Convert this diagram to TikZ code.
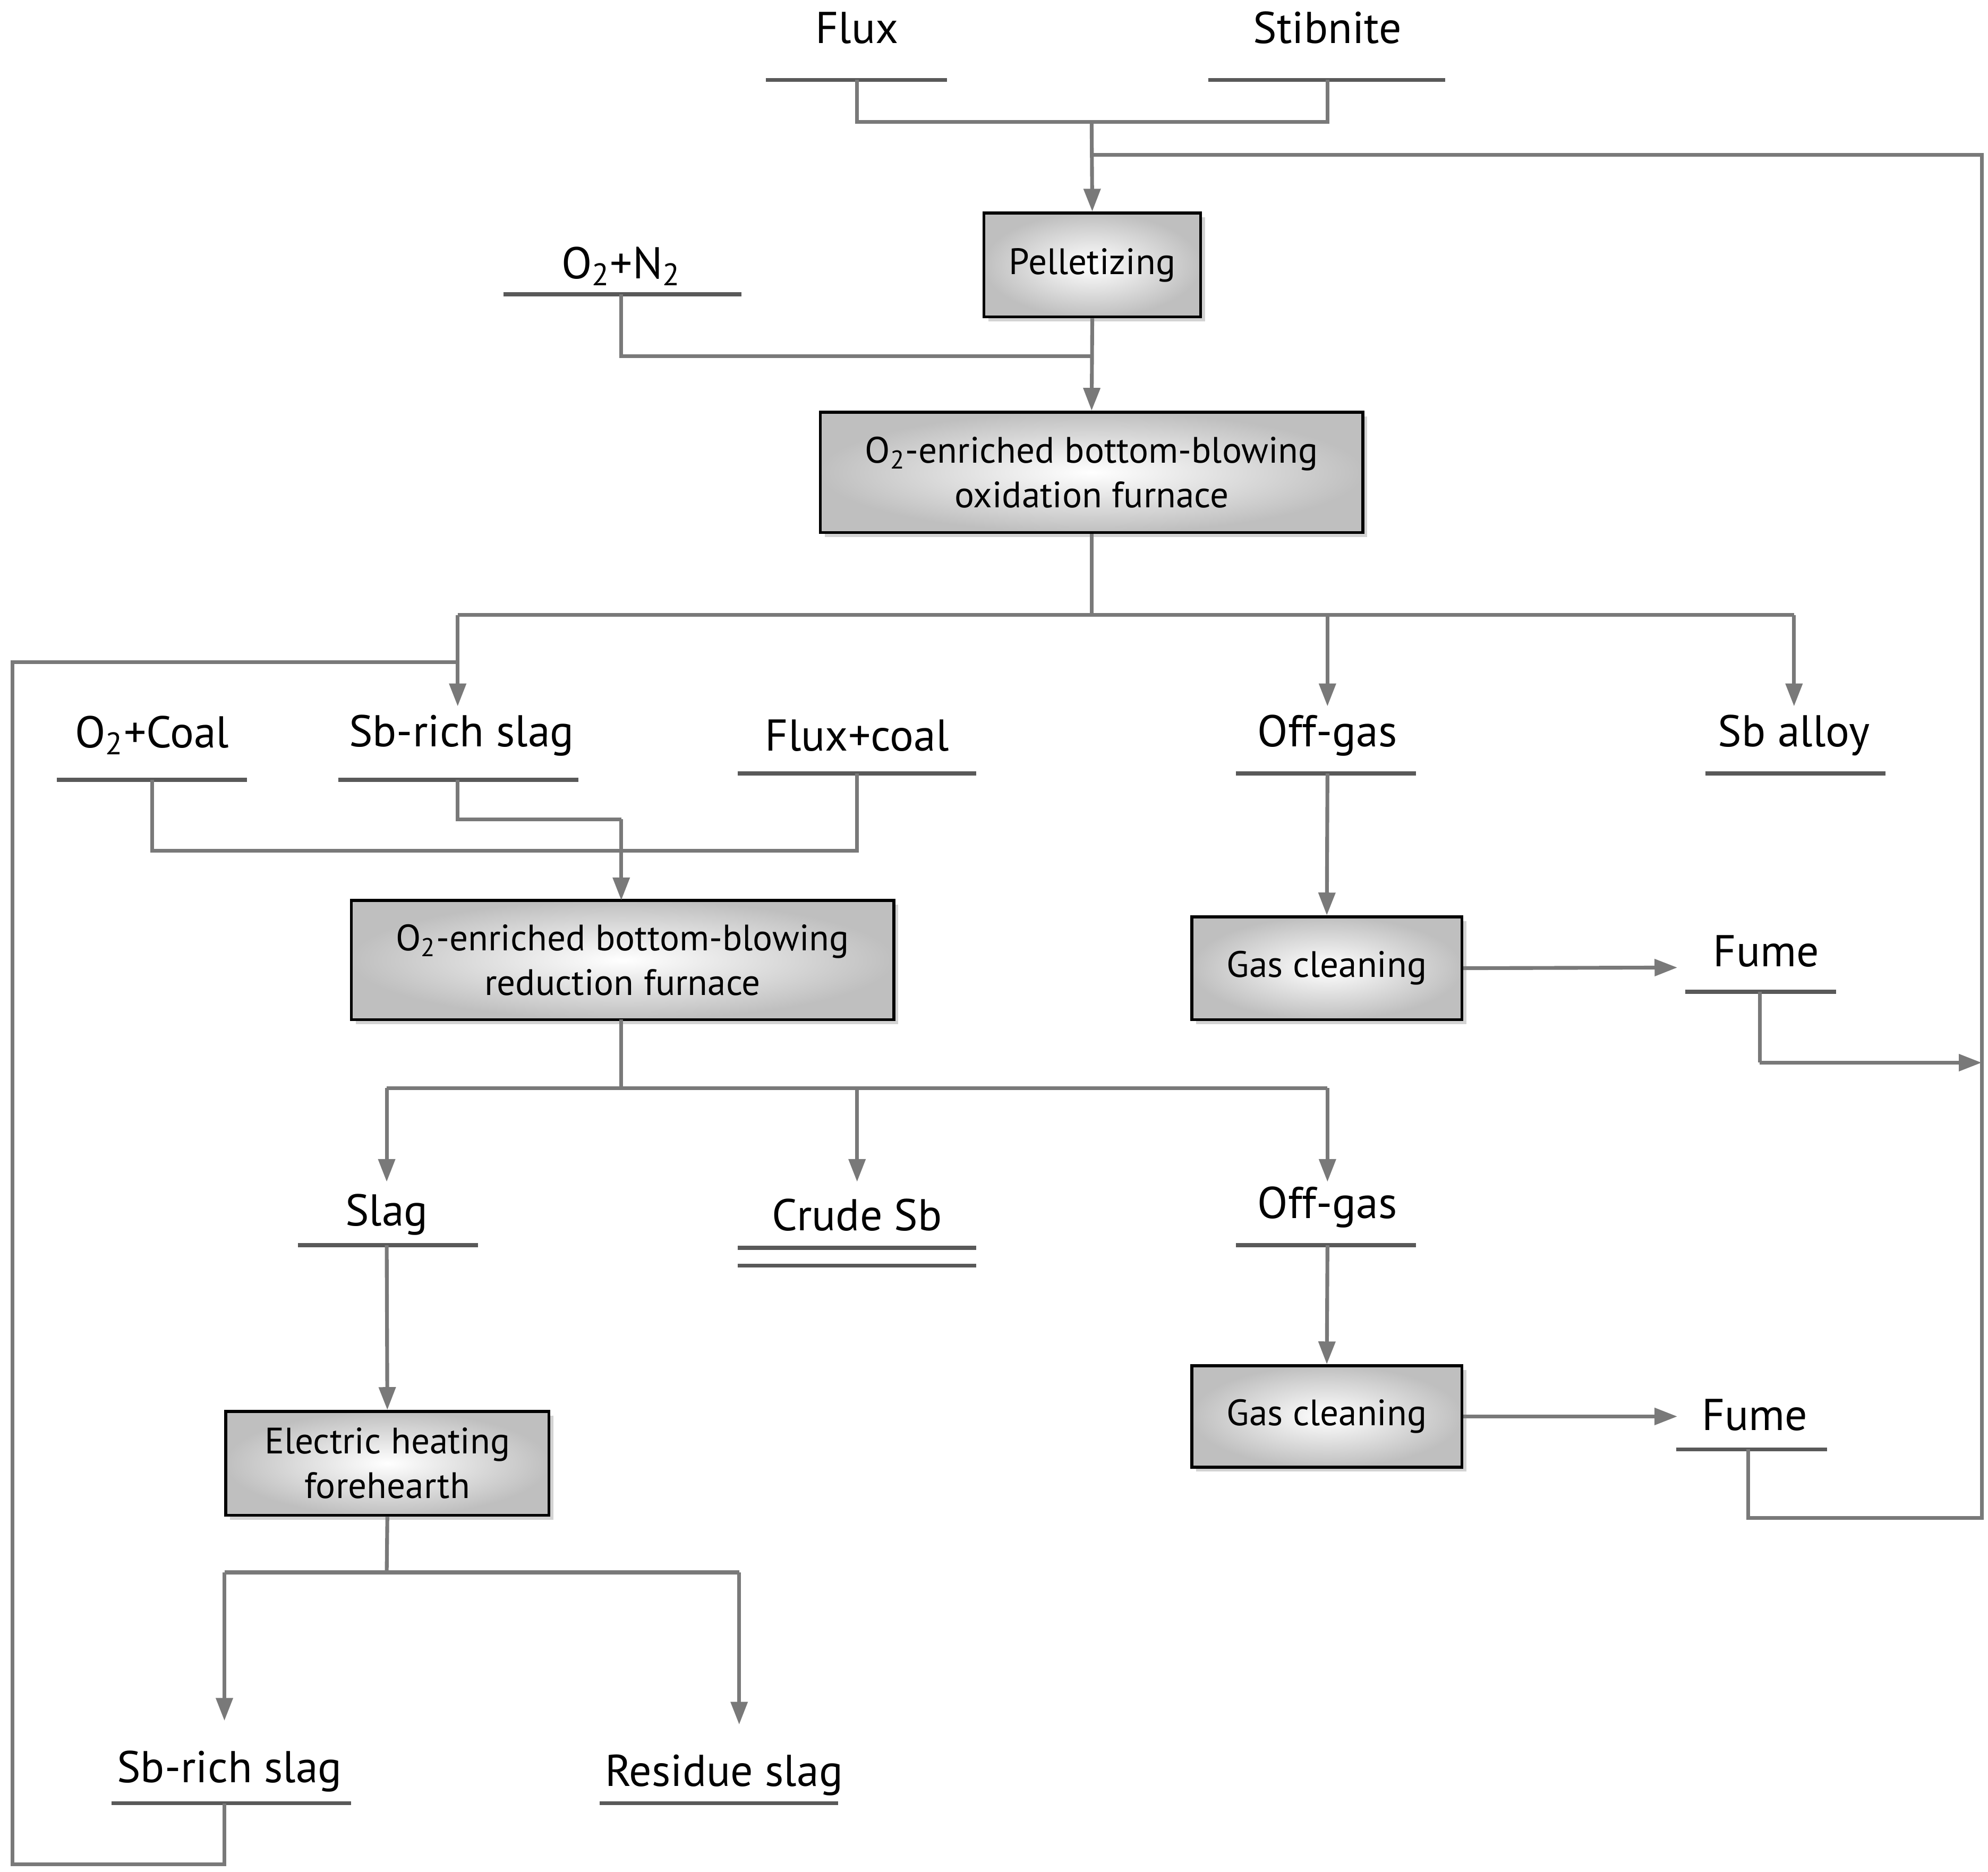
\documentclass[tikz,border=0pt]{standalone}
\usepackage{fontspec}
\setmainfont{PT Sans}
\usetikzlibrary{arrows.meta,shadows}
\begin{document}
\begin{tikzpicture}[x=0.02cm,y=-0.02cm,
  ln/.style={draw=gray!95!black,line width=1.7pt},
  ar/.style={ln,-{Triangle[length=0.36cm,width=0.26cm]}},
  ul/.style={draw=black!65,line width=1.8pt},
  lab/.style={font=\fontsize{20}{22}\selectfont,inner sep=0pt},
  box/.style={draw=black,line width=1.3pt,inner color=white,outer color=gray!50,
    font=\fontsize{16.5}{20}\selectfont,align=center,inner sep=0pt,
    drop shadow={opacity=0.35,shadow xshift=2pt,shadow yshift=-2pt}}]
\useasboundingbox (0,0) rectangle (1568,1476);
% labels
\node[lab] (flux) at (676,22) {Flux};
\node[lab] (stib) at (1047,22) {Stibnite};
\node[lab] (o2n2) at (490,210) {O\textsubscript{2}+N\textsubscript{2}};
\node[lab] (o2coal) at (120,580) {O\textsubscript{2}+Coal};
\node[lab] (sbr1) at (364,580) {Sb-rich slag};
\node[lab] (fluxcoal) at (676,580) {Flux+coal};
\node[lab] (off1) at (1047,580) {Off-gas};
\node[lab] (sballoy) at (1415,580) {Sb alloy};
\node[lab] (fume1) at (1393,750) {Fume};
\node[lab] (slag) at (305,958) {Slag};
\node[lab] (crude) at (676,958) {Crude Sb};
\node[lab] (off2) at (1047,952) {Off-gas};
\node[lab] (fume2) at (1384,1116) {Fume};
\node[lab] (sbr2) at (181,1397) {Sb-rich slag};
\node[lab] (resid) at (571,1400) {Residue slag};
% underlines
\draw[ul] (604,63)--(747,63); \draw[ul] (953,63)--(1140,63);
\draw[ul] (397,232)--(585,232);
\draw[ul] (45,615)--(195,615); \draw[ul] (267,615)--(456,615);
\draw[ul] (582,610)--(770,610); \draw[ul] (975,610)--(1117,610);
\draw[ul] (1345,610)--(1487,610);
\draw[ul] (1329,782)--(1448,782);
\draw[ul] (235,982)--(377,982);
\draw[ul] (582,984)--(770,984); \draw[ul] (582,998)--(770,998);
\draw[ul] (975,982)--(1117,982);
\draw[ul] (1322,1143)--(1441,1143);
\draw[ul] (88,1422)--(277,1422); \draw[ul] (473,1422)--(661,1422);
% boxes
\node[box,minimum width=3.42cm,minimum height=1.64cm] (pel) at (861.5,209) {Pelletizing};
\node[box,minimum width=8.56cm,minimum height=1.9cm] (oxi) at (861,372.5) {O\textsubscript{2}-enriched bottom-blowing\\oxidation furnace};
\node[box,minimum width=8.56cm,minimum height=1.88cm] (red) at (491,757) {O\textsubscript{2}-enriched bottom-blowing\\reduction furnace};
\node[box,minimum width=4.26cm,minimum height=1.62cm] (gc1) at (1046.5,763.5) {Gas cleaning};
\node[box,minimum width=4.26cm,minimum height=1.6cm] (gc2) at (1046.5,1117) {Gas cleaning};
\node[box,minimum width=5.1cm,minimum height=1.64cm] (eh) at (305.5,1154) {Electric heating\\forehearth};
% connectors
\coordinate (j1) at (861,96);
\draw[ln] (676,63)--(676,96)--(1047,96)--(1047,63);
\draw[ar] (j1)--(pel.north);
\draw[ln] (861,122)--(1563,122)--(1563,1197)--(1379,1197)--(1379,1143);
\draw[ln] (490,232)--(490,281)--(861,281);
\draw[ar] (pel.south)--(oxi.north);
\draw[ln] (oxi.south)--(861,485);
\draw[ln] (361,485)--(1415,485);
\draw[ar] (361,485)--(361,557);
\draw[ar] (1047,485)--(1047,557);
\draw[ar] (1415,485)--(1415,557);
\draw[ln] (361,522)--(10,522)--(10,1470)--(177,1470)--(177,1422);
\draw[ln] (120,615)--(120,671)--(676,671)--(676,610);
\draw[ln] (361,615)--(361,646)--(490,646);
\draw[ar] (490,646)--(490,710);
\draw[ar] (1047,610)--(gc1.north);
\draw[ar] (gc1.east)--(1323,763);
\draw[ln] (1388,782)--(1388,838);
\draw[ar] (1388,838)--(1563,838);
\draw[ln] (490,804)--(490,858);
\draw[ln] (305,858)--(1047,858);
\draw[ar] (305,858)--(305,932);
\draw[ar] (676,858)--(676,932);
\draw[ar] (1047,858)--(1047,932);
\draw[ar] (305,982)--(eh.north);
\draw[ar] (1047,982)--(gc2.north);
\draw[ar] (gc2.east)--(1323,1117);
\draw[ln] (eh.south)--(305,1240);
\draw[ln] (177,1240)--(583,1240);
\draw[ar] (177,1240)--(177,1357);
\draw[ar] (583,1240)--(583,1360);
\end{tikzpicture}
\end{document}
